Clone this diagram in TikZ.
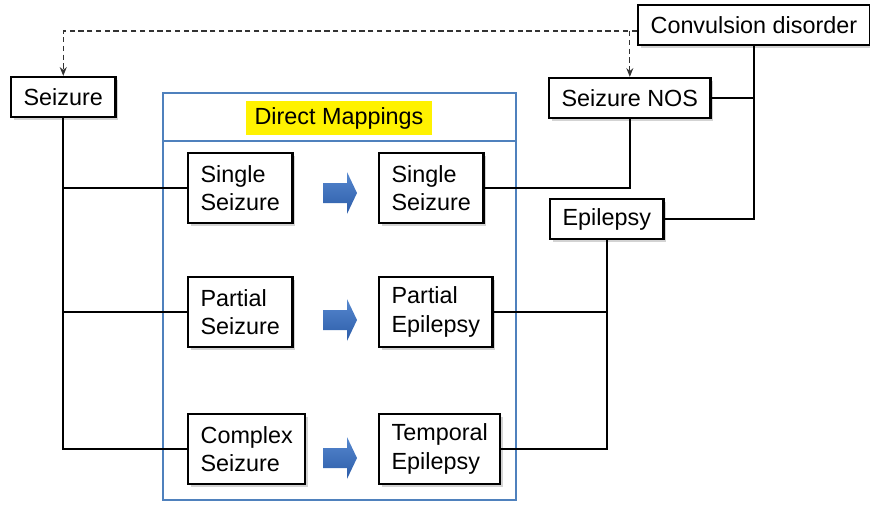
\documentclass[tikz,border=0pt]{standalone}
\usepackage{fontspec}
\setmainfont{Liberation Sans}
\usetikzlibrary{shadows,arrows.meta}
\definecolor{frameblue}{RGB}{79,129,189}
\definecolor{arrowtop}{RGB}{86,136,207}
\definecolor{arrowbot}{RGB}{44,92,168}
\tikzset{
	term/.style={draw, line width=1.3pt, fill=white, align=left, inner xsep=0.25cm, minimum height=0.8cm,
		font=\fontsize{13.3}{16}\selectfont, drop shadow={shadow xshift=1.5pt, shadow yshift=-1.5pt, opacity=0.35}},
	pair/.style={term, minimum height=1.40cm},
	link/.style={line width=0.9pt},
	isa/.style={densely dashed, line width=0.6pt, color=black!80, -{Stealth[length=5pt,width=4pt]}}
}
\begin{document}
	\begin{tikzpicture}[x=0.02cm, y=-0.02cm]
		\useasboundingbox (0,0) rectangle (870,508);
		% direct mappings frame
		\draw[frameblue, line width=1pt] (163,93) rectangle (516,500);
		\draw[frameblue, line width=1pt] (163,141) -- (516,141);
		\node[fill=yellow, inner xsep=0.18cm, minimum height=0.68cm, font=\fontsize{13.3}{16}\selectfont] (title) at (339,118) {Direct Mappings};
		
		\node[term, anchor=west] (seizure) at (10,97) {Seizure};
		\node[term, anchor=west] (conv) at (637,25) {Convulsion disorder};
		\node[term, anchor=west] (nos) at (548,98) {Seizure NOS};
		\node[term, anchor=west] (epilepsy) at (549,219) {Epilepsy};
		
		\node[pair, anchor=west] (single1) at (187,188) {Single\\Seizure};
		\node[pair, anchor=west] (single2) at (378,188) {Single\\Seizure};
		\node[pair, anchor=west] (partial1) at (187,312) {Partial\\Seizure};
		\node[pair, anchor=west] (partial2) at (378,312) {Partial\\Epilepsy};
		\node[pair, anchor=west] (complex) at (187,449) {Complex\\Seizure};
		\node[pair, anchor=west] (temporal) at (378,449) {Temporal\\Epilepsy};
		
		\foreach \y in {193,320,458}
			\shade[top color=arrowtop, bottom color=arrowbot] (323,\y-10) -- (347,\y-10) -- (347,\y-21) -- (357,\y) -- (347,\y+21) -- (347,\y+10) -- (323,\y+10) -- cycle;
		
		\draw[link] (seizure.south) |- (single1.west);
		\draw[link] (seizure.south) |- (partial1.west);
		\draw[link] (seizure.south) |- (complex.west);
		\draw[link] (single2.east) -| (nos.south);
		\draw[link] (conv.south) |- (nos.east);
		\draw[link] (conv.south) |- (epilepsy.east);
		\draw[link] (epilepsy.south) |- (partial2.east);
		\draw[link] (epilepsy.south) |- (temporal.east);
		
		\coordinate (turn) at ([yshift=-0.12cm]conv.west);
		\draw[isa] (turn) -| (seizure.north);
		\draw[isa] (turn -| nos.north) -- (nos.north);
	\end{tikzpicture}
\end{document}
